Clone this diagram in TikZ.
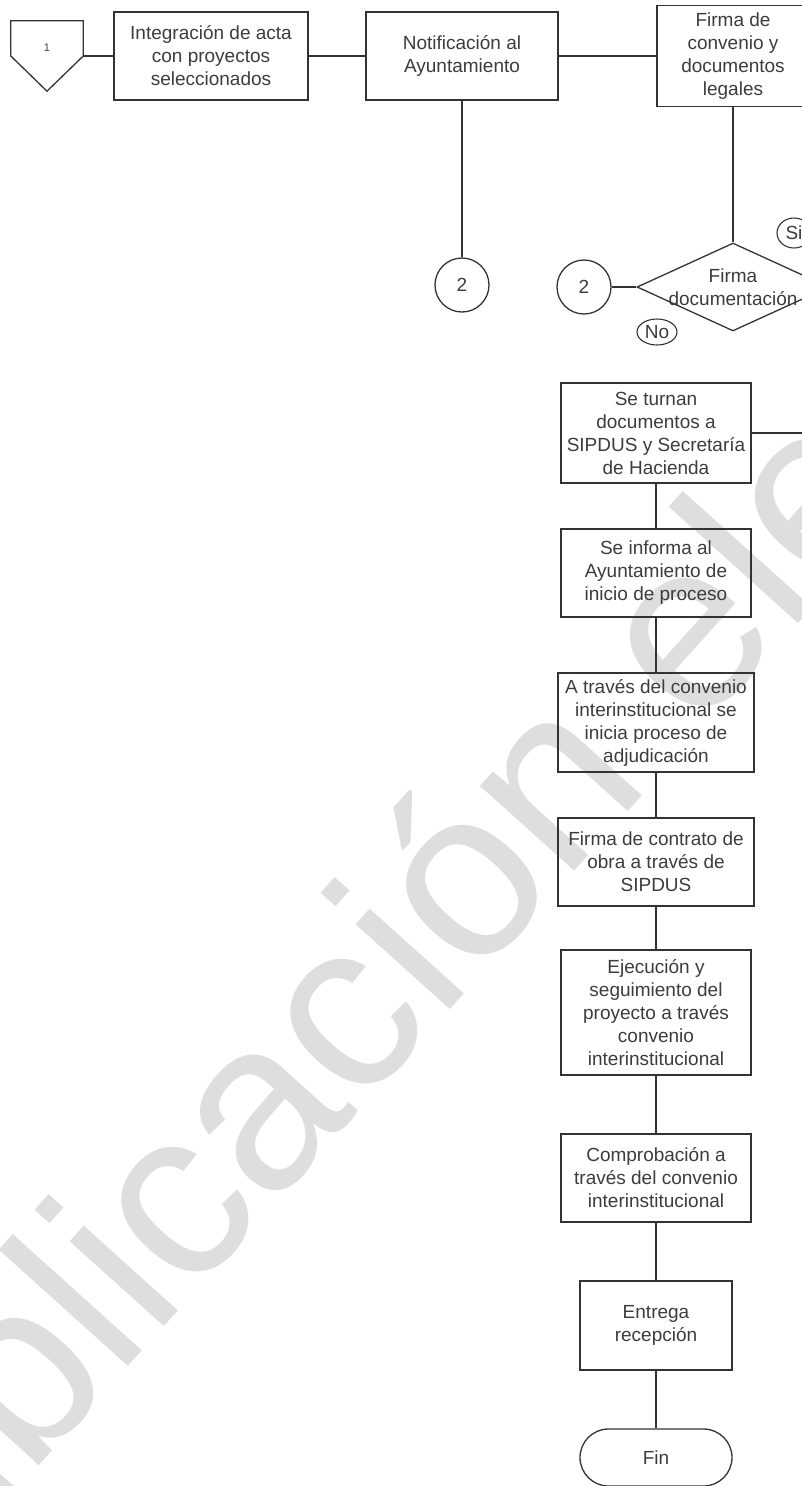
\documentclass[tikz,border=0pt]{standalone}
\usepackage{fontspec}
\setmainfont{Liberation Sans}
\usetikzlibrary{shapes.geometric,shapes.misc}
\definecolor{ln}{HTML}{333333}
\definecolor{tx}{HTML}{3C3C3C}
\definecolor{wm}{HTML}{DEDEDE}
\begin{document}
\begin{tikzpicture}[x=1pt,y=-1pt,
  every node/.style={font=\fontsize{19}{23}\selectfont, text=tx},
  box/.style={draw=ln, line width=1.3pt, rectangle, align=center, inner sep=2pt},
  conn/.style={draw=ln, line width=1.3pt},
  circ/.style={draw=ln, line width=1.3pt, circle, minimum size=54pt, inner sep=0pt},
  lbl/.style={draw=ln, line width=1.1pt, ellipse, inner sep=0pt},
  plain/.style={align=center, inner sep=0pt}
]
\useasboundingbox (0,0) rectangle (802,1486);
\clip (0,0) rectangle (802,1486);
% watermark
\node[rotate=48, anchor=base west, text=wm, font=\fontsize{240}{240}\selectfont, inner sep=0pt] (wm) at (-168,1696) {Publicación electrónica};

% top row
\node[minimum width=72pt, minimum height=70pt, inner sep=0pt] (c1) at (47,56) {};
\draw[conn] (c1.north west) -- (c1.north east) -- (c1.east) -- (c1.south) -- (c1.west) -- cycle;
\node[plain, font=\fontsize{11}{13}\selectfont] (n1) at (47,48) {1};
\node[box, minimum width=194pt, minimum height=88pt] (b1) at (211,56) {Integración de acta\\con proyectos\\seleccionados};
\node[box, minimum width=192pt, minimum height=88pt] (b2) at (462,56) {Notificación al\\Ayuntamiento};
\node[box, minimum width=152pt, minimum height=101pt] (b3) at (733,56) {Firma de\\convenio y\\documentos\\legales};

% decision
\node[circ] (c2a) at (462,285) {2};
\node[diamond, draw=ln, line width=1.3pt, minimum width=192pt, minimum height=88pt, inner sep=0pt] (d) at (733,287) {};
\node[plain] (dt) at (733,287) {Firma\\documentación};
\node[circ] (c2b) at (584,287) {2};
\node[lbl, minimum width=34pt, minimum height=30pt] (si) at (794,233) {Si};
\node[lbl, minimum width=40pt, minimum height=26pt] (no) at (657,332) {No};

% main column
\node[box, minimum width=190pt, minimum height=100pt] (s1) at (656,433) {Se turnan\\documentos a\\SIPDUS y Secretaría\\de Hacienda};
\node[box, minimum width=190pt, minimum height=88pt] (s2) at (656,573) {Se informa al\\Ayuntamiento de\\inicio de proceso};
\node[box, minimum width=196pt, minimum height=99pt] (s3) at (656,722.5) {A través del convenio\\interinstitucional se\\inicia proceso de\\adjudicación};
\node[box, minimum width=196pt, minimum height=88pt] (s4) at (656,862) {Firma de contrato de\\obra a través de\\SIPDUS};
\node[box, minimum width=190pt, minimum height=125pt] (s5) at (656,1012.5) {Ejecución y\\seguimiento del\\proyecto a través\\convenio\\interinstitucional};
\node[box, minimum width=190pt, minimum height=88pt] (s6) at (656,1178) {Comprobación a\\través del convenio\\interinstitucional};
\node[box, minimum width=152pt, minimum height=89pt] (s7) at (656,1325.5) {Entrega\\recepción};
\node[rounded rectangle, draw=ln, line width=1.3pt, minimum width=152pt, minimum height=57pt, inner sep=0pt] (fin) at (656,1457.5) {Fin};
\coordinate (e1) at (815,433);

% connectors
\draw[conn] (c1.east) -- (b1.west);
\draw[conn] (b1.east) -- (b2.west);
\draw[conn] (b2.east) -- (b3.west);
\draw[conn] (b2.south) -- (c2a.north);
\draw[conn] (b3.south) -- (d.north);
\draw[conn] (c2b.east) -- (d.west);
\draw[conn] (s1.east) -- (e1);
\draw[conn] (s1.south) -- (s2.north);
\draw[conn] (s2.south) -- (s3.north);
\draw[conn] (s3.south) -- (s4.north);
\draw[conn] (s4.south) -- (s5.north);
\draw[conn] (s5.south) -- (s6.north);
\draw[conn] (s6.south) -- (s7.north);
\draw[conn] (s7.south) -- (fin.north);
\end{tikzpicture}
\end{document}
